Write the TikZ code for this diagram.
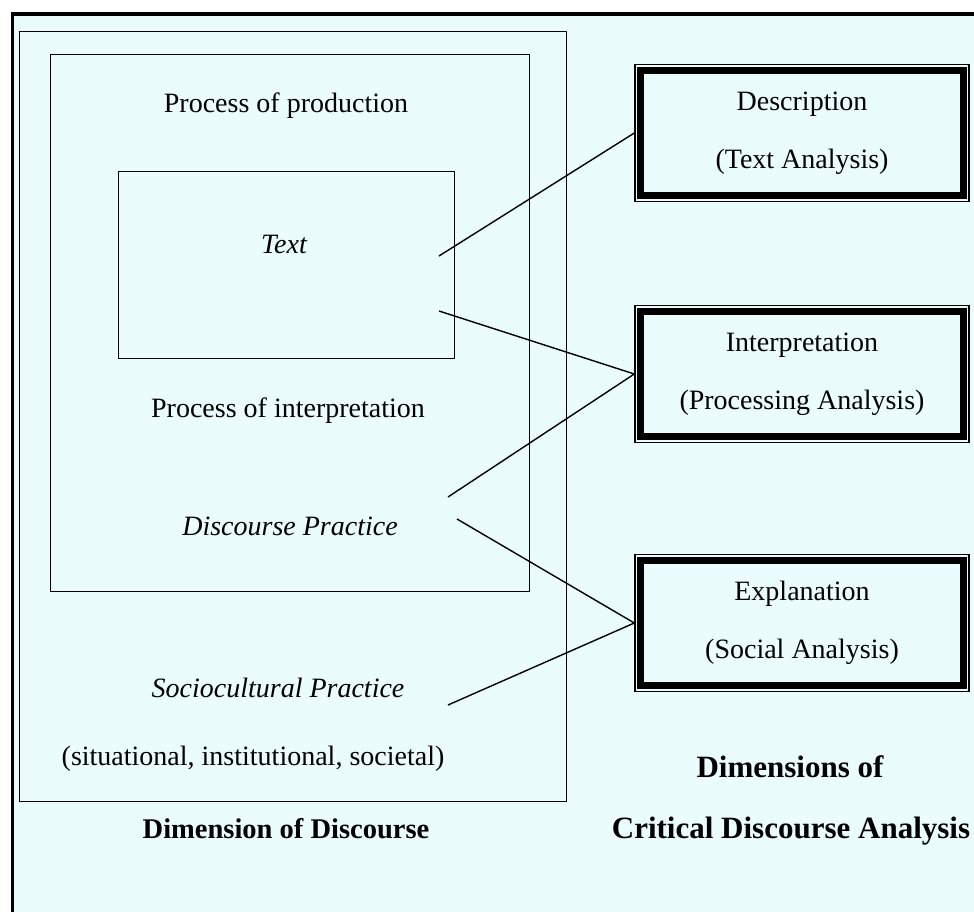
\documentclass[tikz,border=0pt]{standalone}
\usepackage{fontspec}
\setmainfont{Liberation Serif}
\definecolor{paleteal}{RGB}{234,252,252}

\begin{document}
\begin{tikzpicture}[
      x=1pt, y=-1pt,
      inner sep=0pt,
      line width=1.4pt,
      lbl/.style={anchor=base, font=\fontsize{28}{34}\selectfont},
      lbli/.style={anchor=base, font=\fontsize{28}{34}\selectfont\itshape},
      head/.style={anchor=base, font=\fontsize{28.5}{34}\selectfont\bfseries},
      bighead/.style={anchor=base, font=\fontsize{31}{36}\selectfont\bfseries},
      frame/.style={draw, anchor=north west},
      cdabox/.style={draw, minimum width=334, minimum height=137,
        align=center, font=\fontsize{28}{58}\selectfont}
    ]
    \useasboundingbox (0,0) rectangle (974,912);
    % page background and heavy outer border
    \fill[paleteal] (12.5,14) rectangle (990,930);
    \draw[line width=3.8pt] (12.5,930) -- (12.5,14) -- (990,14);

    % nested dimensions of discourse
    \node (socio) [frame, minimum width=547, minimum height=770] at (19,31) {};
    \node (disc) [frame, minimum width=479, minimum height=537] at (50,54) {};
    \node (text) [frame, minimum width=336, minimum height=187] at (118,171) {};

    \node (prod) [lbl] at (286,113) {Process of production};
    \node (txt) [lbli] at (284,253) {Text};
    \node (interpr) [lbl] at (288,417) {Process of interpretation};
    \node (dp) [lbli] at (290,535) {Discourse Practice};
    \node (scp) [lbli] at (278,697) {Sociocultural Practice};
    \node (sis) [lbl] at (253,765) {(situational, institutional, societal)};
    \node (dimd) [head] at (286,838) {Dimension of Discourse};

    % dimensions of analysis
    \node (desc) [cdabox] at (802,133) {Description\\(Text Analysis)};
    \node (interp) [cdabox] at (802,374) {Interpretation\\(Processing Analysis)};
    \node (expl) [cdabox] at (802,623) {Explanation\\(Social Analysis)};
    \foreach \b in {desc,interp,expl}
      \draw[line width=7pt] ([shift={(6.5,6.5)}]\b.north west)
        rectangle ([shift={(-6.5,-6.5)}]\b.south east);

    \node (dimsof) [bighead] at (790,777) {Dimensions of};
    \node (cda) [bighead] at (791,838) {Critical Discourse Analysis};

    % links
    \coordinate (txtup) at (439,256);
    \coordinate (txtlow) at (439,311);
    \coordinate (dpup) at (448,497);
    \coordinate (dplow) at (457,519);
    \coordinate (scpend) at (448,705);
    \draw (txtup) -- (desc.west);
    \draw (txtlow) -- (interp.west);
    \draw (dpup) -- (interp.west);
    \draw (dplow) -- (expl.west);
    \draw (scpend) -- (expl.west);
  \end{tikzpicture}
\end{document}
